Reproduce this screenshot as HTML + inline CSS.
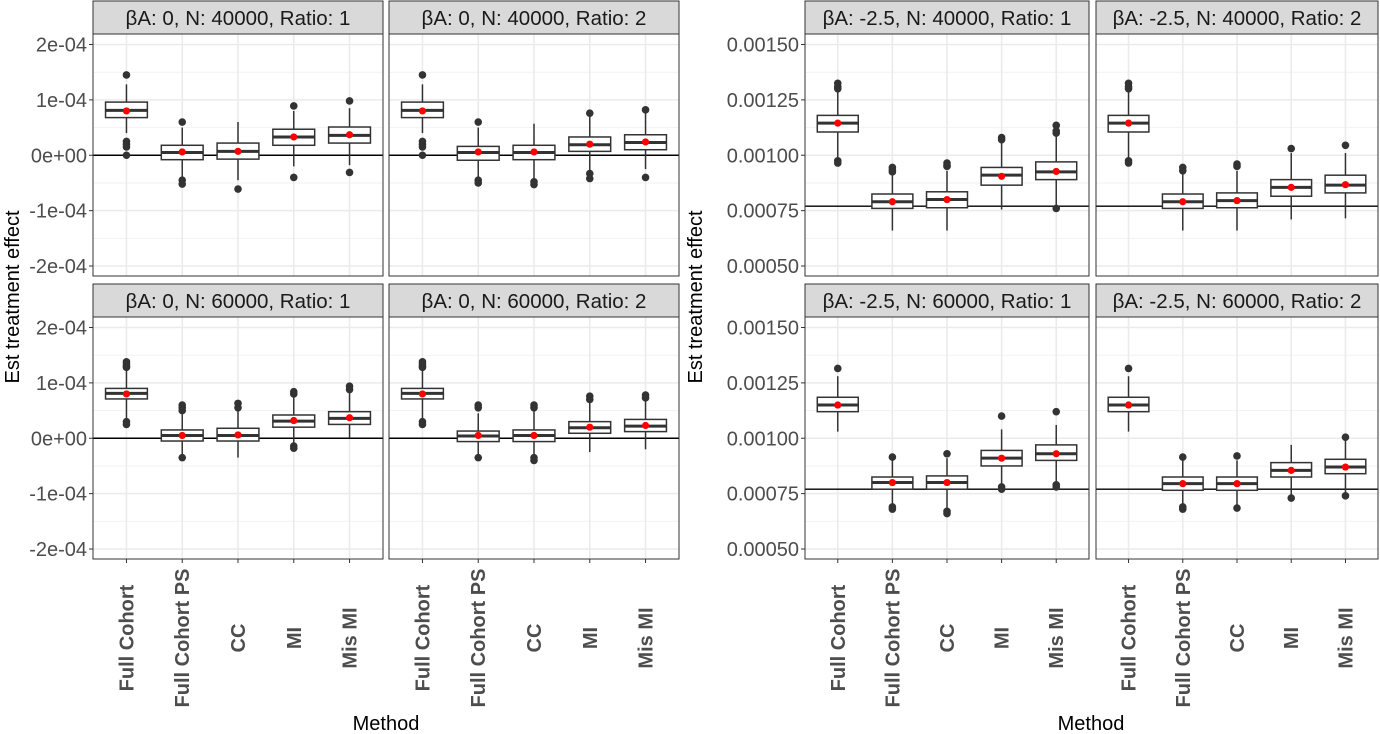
<!DOCTYPE html>
<html><head><meta charset="utf-8"><style>
body{margin:0;background:#fff;}
svg{display:block;font-family:"Liberation Sans",Arial,sans-serif;}
</style></head><body>
<svg id="chart" width="1380" height="734"></svg>
<script>
const methods=["Full Cohort","Full Cohort PS","CC","MI","Mis MI"];
const leftTicks=[-20,-10,0,10,20];
const leftTickLabels=["-2e-04","-1e-04","0e+00","1e-04","2e-04"];
const rightTicks=[50,75,100,125,150];
const rightTickLabels=["0.00050","0.00075","0.00100","0.00125","0.00150"];
const leftRef=0;
const rightRef=77;
// each stat: [lowWhisker,q1,median,q3,highWhisker,mean,outliers]
const left_N40_R1=[[4,6.8,8.1,9.6,12.8,8.0,[14.5,2.5,2,1.5,0]],[-4,-0.8,0.5,1.8,5,0.6,[6,-4.5,-5.2]],[-4.5,-0.7,0.7,2.2,6,0.7,[-6.1]],[-2,1.8,3.3,4.7,8,3.3,[8.9,-4]],[-1.8,2.2,3.6,5.1,8.5,3.7,[9.8,-3.1]]];
const left_N40_R2=[[4,6.8,8.1,9.6,12.8,8.0,[14.5,2.5,2,1.5,0]],[-4,-0.9,0.5,1.6,5,0.6,[6,-4.5,-5]],[-4.5,-0.8,0.5,1.8,5.7,0.6,[-4.8,-5.3]],[-2.8,0.7,1.9,3.3,7,2.0,[7.6,-3.3,-4.2]],[-2.5,1,2.3,3.7,8,2.4,[8.2,-4]]];
const left_N60_R1=[[3.5,7.1,8.1,9.0,12.5,8.0,[13.8,13.4,13,12.8,3,2.5]],[-3,-0.5,0.5,1.5,4.5,0.5,[6,5.5,5,-3.5]],[-3.5,-0.5,0.5,1.8,5,0.6,[6.3,5.5]],[-1,2,3.1,4.2,7.5,3.2,[8.4,8,-1.4,-1.8]],[0,2.5,3.6,4.8,8.5,3.7,[9.4,8.8]]];
const left_N60_R2=[[3.5,7.1,8.1,9.0,12.5,8.0,[13.8,13.4,13,12.8,3,2.5]],[-3,-0.6,0.4,1.3,4.5,0.5,[6,5.5,-3.5]],[-3,-0.6,0.5,1.5,5,0.5,[6,5.5,-3.5,-4]],[-2.5,0.9,1.9,3,6.5,2.0,[7.6,7]],[-2,1.2,2.2,3.4,7,2.3,[7.8,7.3]]];
const right_N40_R1=[[98.5,110.5,114.5,118,129,114.5,[132.5,131,130,97.5,96.5]],[66,76,79,82.5,92,79,[94.5,93.5,92.5]],[66,76.3,80,83.5,93,80,[96.5,95.5,95]],[75.5,86.5,91,94.5,106,90.5,[108,107]],[77,89,92.5,97,110,92.7,[113.5,111,110,76]]];
const right_N40_R2=[[98.5,110.5,114.5,118,129,114.5,[132.5,131,130,97.5,96.5]],[66,76,79,82.5,92,79,[94.5,93]],[66,76.3,79.5,83,93,79.5,[96,95]],[71,81.5,85.5,89,101,85.5,[103]],[71.5,83,86.5,91,101,86.7,[104.5]]];
const right_N60_R1=[[103,112,115,118.5,128,115,[131.5]],[70,77,80,82.5,90,80,[91.5,69,68]],[68,77,80,83,91,80,[93,67,66]],[79,87.5,91,94.5,104,91,[110,78,77]],[80,90,93,97,106,93,[112,79,78]]];
const right_N60_R2=[[103,112,115,118.5,128,115,[131.5]],[70,76.5,79.5,82.5,90,79.5,[91.5,69,68]],[69,76.5,79.5,82.5,90,79.5,[92,68.5]],[73.5,82.5,85.5,89,97,85.5,[73]],[75,84,87,90.5,99,87,[100.5,74]]];

const NS="http://www.w3.org/2000/svg";
const svg=document.getElementById('chart');
function mk(tag,attrs,parent,text){const e=document.createElementNS(NS,tag);for(const k in attrs)e.setAttribute(k,attrs[k]);if(text!==undefined)e.textContent=text;(parent||svg).appendChild(e);return e;}

const panels=[
 {x0:93,x1:383,y0:34,strip:"βA: 0, N: 40000, Ratio: 1",data:left_N40_R1,side:"L",yax:true},
 {x0:389,x1:679,y0:34,strip:"βA: 0, N: 40000, Ratio: 2",data:left_N40_R2,side:"L",yax:false},
 {x0:93,x1:383,y0:317,strip:"βA: 0, N: 60000, Ratio: 1",data:left_N60_R1,side:"L",yax:true,xax:true},
 {x0:389,x1:679,y0:317,strip:"βA: 0, N: 60000, Ratio: 2",data:left_N60_R2,side:"L",yax:false,xax:true},
 {x0:805,x1:1089,y0:34,strip:"βA: -2.5, N: 40000, Ratio: 1",data:right_N40_R1,side:"R",yax:true},
 {x0:1096,x1:1378,y0:34,strip:"βA: -2.5, N: 40000, Ratio: 2",data:right_N40_R2,side:"R",yax:false},
 {x0:805,x1:1089,y0:317,strip:"βA: -2.5, N: 60000, Ratio: 1",data:right_N60_R1,side:"R",yax:true,xax:true},
 {x0:1096,x1:1378,y0:317,strip:"βA: -2.5, N: 60000, Ratio: 2",data:right_N60_R2,side:"R",yax:false,xax:true}
];
const PH=242;
panels.forEach((p,pi)=>{
 const g=mk('g',{},svg);
 
 
 const ticks=p.side==="L"?leftTicks:rightTicks;
 const labs=p.side==="L"?leftTickLabels:rightTickLabels;
 const lo=ticks[0],hi=ticks[ticks.length-1];
 const tickTop=p.y0+10.5,tickBot=p.y0+PH-10;
 const y=v=>tickBot-(v-lo)/(hi-lo)*(tickBot-tickTop);
 const w=p.x1-p.x0, unit=w/5.2;
 const x=i=>p.x0+unit*(i+0.6);
 const st=mk('rect',{x:p.x0,y:p.y0-33,width:w,height:33,fill:'#d9d9d9',stroke:'#333',"stroke-width":1},g);
 
 const stt=mk('text',{x:(p.x0+p.x1)/2,y:p.y0-9,"text-anchor":"middle","font-size":20.5,fill:'#1a1a1a'},g,p.strip);
 
 mk('rect',{x:p.x0,y:p.y0,width:w,height:PH,fill:'#fff'},g);
 for(let k=0;k<ticks.length-1;k++){const m=(ticks[k]+ticks[k+1])/2;mk('line',{x1:p.x0,x2:p.x1,y1:y(m),y2:y(m),stroke:'#f2f2f2',"stroke-width":1},g);}
 ticks.forEach(t=>mk('line',{x1:p.x0,x2:p.x1,y1:y(t),y2:y(t),stroke:'#ebebeb',"stroke-width":1.6},g));
 methods.forEach((m,i)=>mk('line',{x1:x(i),x2:x(i),y1:p.y0,y2:p.y0+PH,stroke:'#ebebeb',"stroke-width":1.6},g));
 const ref=p.side==="L"?leftRef:rightRef;
 const rl=mk('line',{x1:p.x0,x2:p.x1,y1:y(ref),y2:y(ref),stroke:'#000',"stroke-width":1.4},g);
 
 const bw=unit*0.75;
 p.data.forEach((d,i)=>{
  const bg=mk('g',{},g);
  
  
  const cx=x(i);
  mk('line',{x1:cx,x2:cx,y1:y(d[0]),y2:y(d[1]),stroke:'#333',"stroke-width":1.5},bg);
  mk('line',{x1:cx,x2:cx,y1:y(d[3]),y2:y(d[4]),stroke:'#333',"stroke-width":1.5},bg);
  mk('rect',{x:cx-bw/2,y:y(d[3]),width:bw,height:y(d[1])-y(d[3]),fill:'#fff',stroke:'#333',"stroke-width":1.5},bg);
  mk('line',{x1:cx-bw/2,x2:cx+bw/2,y1:y(d[2]),y2:y(d[2]),stroke:'#333',"stroke-width":3},bg);
  d[6].forEach(o=>mk('circle',{cx:cx,cy:y(o),r:3.8,fill:'#333'},bg));
  mk('circle',{cx:cx,cy:y(d[5]),r:3.6,fill:'#ff0000'},bg);
 });
 mk('rect',{x:p.x0,y:p.y0,width:w,height:PH,fill:'none',stroke:'#333',"stroke-width":1},g);
 if(p.yax){
  ticks.forEach((t,k)=>{
   mk('line',{x1:p.x0-4,x2:p.x0,y1:y(t),y2:y(t),stroke:'#333',"stroke-width":1},g);
   const tl=mk('text',{x:p.x0-6,y:y(t)+7,"text-anchor":"end","font-size":20,fill:'#4d4d4d'},g,labs[k]);
   
  });
 }
 if(p.xax){
  methods.forEach((m,i)=>{
   mk('line',{x1:x(i),x2:x(i),y1:p.y0+PH,y2:p.y0+PH+4,stroke:'#333',"stroke-width":1},g);
   const xl=mk('text',{transform:`translate(${x(i)+7},638) rotate(-90)`,"text-anchor":"middle","font-size":20,"font-weight":"bold",fill:'#4d4d4d'},g,m);
   
  });
 }
});
[[386,19],[1091,702]].forEach(([mx,yx])=>{
 const t=mk('text',{x:mx,y:730,"text-anchor":"middle","font-size":20,fill:'#000'},svg,"Method");
 
 const yt=mk('text',{transform:`translate(${yx},297) rotate(-90)`,"text-anchor":"middle","font-size":20,fill:'#000'},svg,"Est treatment effect");
 
});
</script>
</body></html>
